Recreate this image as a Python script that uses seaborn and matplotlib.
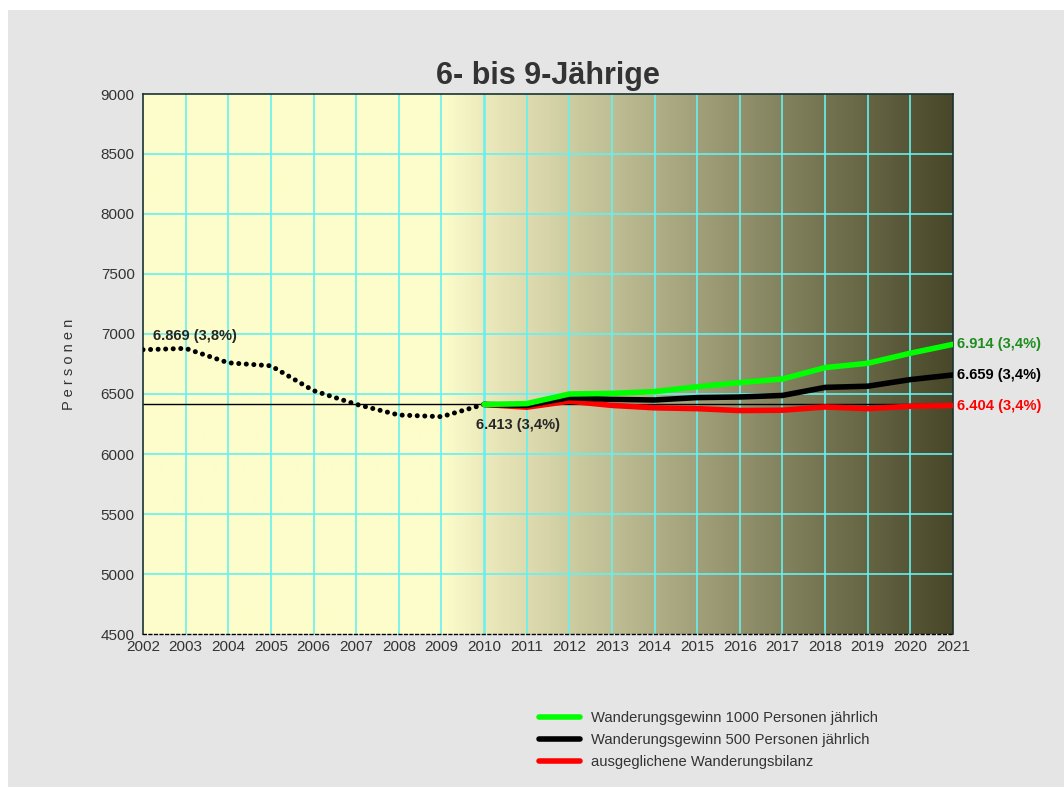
import numpy as np
import pandas as pd
import matplotlib
matplotlib.use('Agg')
import matplotlib.pyplot as plt
import seaborn as sns
from matplotlib.colors import LinearSegmentedColormap
from matplotlib.patches import Rectangle

# data
years_hist = [2002, 2003, 2004, 2005, 2006, 2007, 2008, 2009, 2010]
hist = [6869, 6880, 6760, 6735, 6528, 6414, 6325, 6311, 6413]

years_proj = list(range(2010, 2022))
plus_1000 = [6413, 6420, 6500, 6505, 6520, 6560, 6595, 6625, 6720, 6756, 6840, 6914]
plus_500 = [6413, 6405, 6470, 6455, 6450, 6470, 6475, 6488, 6555, 6565, 6620, 6659]
balanced = [6413, 6390, 6440, 6405, 6385, 6378, 6362, 6365, 6392, 6378, 6398, 6404]

series_names = ['Wanderungsgewinn 1000 Personen jährlich',
                'Wanderungsgewinn 500 Personen jährlich',
                'ausgeglichene Wanderungsbilanz']
series_colors = ['#00FF00', '#000000', '#FF0000']
end_labels = ['6.914 (3,4%)', '6.659 (3,4%)', '6.404 (3,4%)']
end_colors = ['#1E8C1E', '#000000', '#FF0000']

sns.set_style('white')
plt.rcParams['font.family'] = ['Liberation Sans', 'DejaVu Sans']

fig = plt.figure(figsize=(10.64, 7.87), dpi=100, facecolor='white')
fig.patches.append(Rectangle((8/1064, 0), 1, 777/787, transform=fig.transFigure,
                             facecolor='#E5E5E5', edgecolor='none', zorder=-10))
ax = fig.add_axes([143/1064, 1-634/787, 810/1064, 540/787])

# background gradient
cmap = LinearSegmentedColormap.from_list('bg', [
    (0.0, '#FDFDCB'), (7/19, '#FDFDCB'), (8/19, '#ECEABC'),
    (1.0, '#48482A')])
grad = np.linspace(0, 1, 600).reshape(1, -1)
ax.imshow(grad, cmap=cmap, aspect='auto', extent=[2002, 2021, 4500, 9000],
          zorder=0, interpolation='bilinear')

# grid
for yr in range(2003, 2021):
    ax.axvline(yr, color='#66F0F0', lw=1.2 if yr != 2010 else 1.8, zorder=1)
for v in range(5000, 9000, 500):
    ax.axhline(v, color='#66F0F0', lw=1.2, zorder=1)

ax.axhline(6413, color='black', lw=1.0, zorder=2)

# historical dotted line
df_hist = pd.DataFrame({'Jahr': years_hist, 'Personen': hist})
sns.lineplot(data=df_hist, x='Jahr', y='Personen', ax=ax, color='black',
             lw=3.6, dashes=False, zorder=3)
ln = ax.lines[-1]
ln.set_dashes((0.01, 1.5))
ln.set_dash_capstyle('round')

# projections
rows = []
for name, vals in zip(series_names, [plus_1000, plus_500, balanced]):
    for yr, v in zip(years_proj, vals):
        rows.append({'Jahr': yr, 'Personen': v, 'Variante': name})
df_proj = pd.DataFrame(rows)
# draw red first so green sits on top like the original
sns.lineplot(data=df_proj, x='Jahr', y='Personen', hue='Variante',
             hue_order=series_names[::-1], palette=series_colors[::-1],
             lw=4, ax=ax, zorder=4, legend=False)

ax.set_xlim(2002, 2021)
ax.set_ylim(4500, 9000)
ax.set_xticks(range(2002, 2022))
ax.set_yticks(range(4500, 9001, 500))
ax.tick_params(length=0, labelsize=11, labelcolor='#333333')
ax.tick_params(axis='x', pad=4)
ax.tick_params(axis='y', pad=6)
ax.set_xlabel('')
ax.set_ylabel('P e r s o n e n', fontsize=10.5, color='#333333', labelpad=18)

for side in ['left', 'right', 'top']:
    ax.spines[side].set_color('#1A3333')
    ax.spines[side].set_linewidth(1.2)
ax.spines['bottom'].set_color('black')
ax.spines['bottom'].set_linestyle((0, (2, 2)))
ax.spines['bottom'].set_linewidth(1.0)

ax.set_title('6- bis 9-Jährige', fontsize=22, fontweight='bold', color='#333333', pad=7)

# value labels
ax.text(2002.23, 6869 + 60, '6.869 (3,8%)', fontsize=10.5, fontweight='bold',
        ha='left', va='bottom')
ax.text(2009.8, 6413 - 110, '6.413 (3,4%)', fontsize=10.5, fontweight='bold',
        ha='left', va='top')
for lab, col, v in zip(end_labels, end_colors, [plus_1000[-1], plus_500[-1], balanced[-1]]):
    ax.text(2021.1, v, lab, fontsize=10.5, fontweight='bold', color=col,
            ha='left', va='center', clip_on=False)

# legend
handles = [plt.Line2D([], [], color=c, lw=4) for c in series_colors]
fig.legend(handles, series_names, loc='upper left',
           bbox_to_anchor=(526/1064, 1-698/787), frameon=False,
           fontsize=10.6, labelcolor='#333333', handlelength=2.8,
           handletextpad=0.7, labelspacing=0.55)

fig.savefig('out.png', dpi=100, facecolor=fig.get_facecolor())
